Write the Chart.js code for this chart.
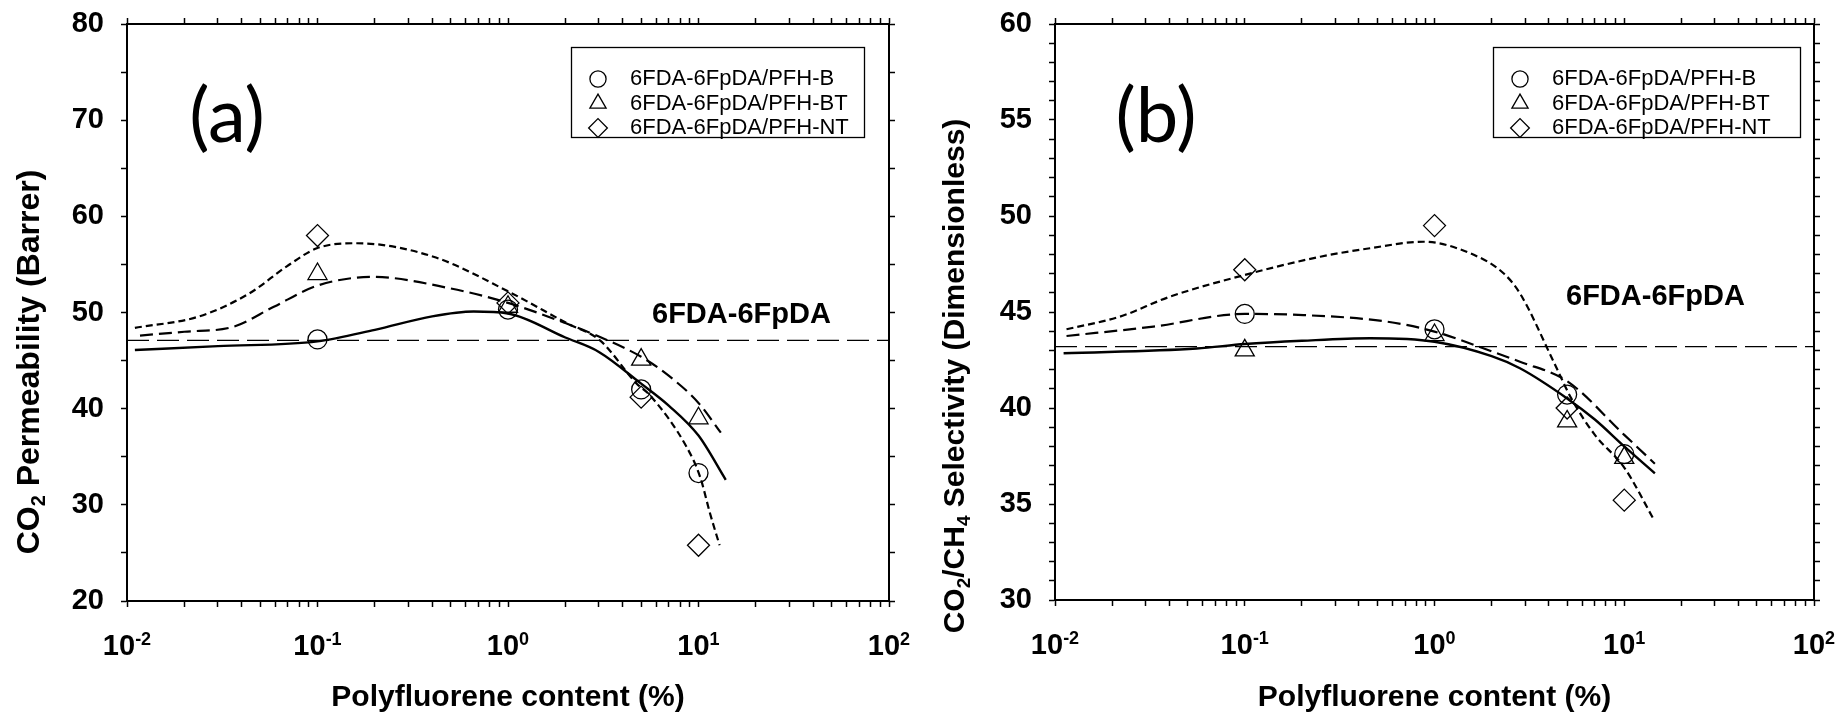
<!DOCTYPE html>
<html>
<head>
<meta charset="utf-8">
<script src="https://cdn.jsdelivr.net/npm/chart.js@4.4.1/dist/chart.umd.min.js"></script>
<style>
  html, body { margin: 0; padding: 0; background: #fff; }
  #wrap { position: relative; width: 1839px; height: 717px; }
  canvas { position: absolute; top: 0; }
</style>
</head>
<body>
<div id="wrap">
  <canvas id="chartA" width="920" height="717" style="left:0"></canvas>
  <canvas id="chartB" width="919" height="717" style="left:920px"></canvas>
</div>
<script>
// ---- data ----
const seriesNames = ['6FDA-6FpDA/PFH-B', '6FDA-6FpDA/PFH-BT', '6FDA-6FpDA/PFH-NT'];
const contentPct = [0.1, 1, 5, 10];

// (a) CO2 permeability (Barrer)
const permB  = [47.2, 50.3, 42.0, 33.3];
const permBT = [54.0, 50.6, 45.1, 39.0];
const permNT = [58.0, 51.0, 41.2, 25.8];
const permNeat = 47.1;

// (b) CO2/CH4 selectivity
const selB  = [44.9, 44.1, 40.7, 37.6];
const selBT = [43.0, 43.8, 39.3, 37.4];
const selNT = [47.2, 49.5, 40.0, 35.2];
const selNeat = 43.2;

// fitted trend curves
const permSolidX = [0.011, 0.03, 0.1, 0.2, 0.4, 0.66, 1, 2, 3, 5, 7, 10, 13.9];
const permSolidY = [46.1, 46.5, 47.0, 48.2, 49.6, 50.1, 49.9, 47.4, 45.9, 42.6, 40.3, 37.2, 32.6];
const permDashX = [0.0117, 0.02, 0.036, 0.059, 0.1, 0.196, 0.5, 1, 2, 3, 5, 7, 10, 13.1];
const permDashY = [47.6, 48.0, 48.5, 50.6, 52.8, 53.7, 52.5, 51.0, 48.9, 47.5, 45.4, 43.4, 40.6, 37.5];
const permDotX = [0.011, 0.024, 0.044, 0.069, 0.1, 0.161, 0.406, 1, 2.03, 3.04, 4.74, 5.56, 8.67, 10.2, 11.5, 12.9];
const permDotY = [48.4, 49.6, 52.0, 54.8, 56.7, 57.2, 55.8, 52.2, 48.9, 47.1, 42.6, 41.4, 36.0, 32.9, 29.1, 25.8];

const selSolidX = [0.0111, 0.0558, 0.1, 0.2, 0.457, 1, 2, 2.82, 5, 7, 10, 14.5];
const selSolidY = [42.85, 43.1, 43.33, 43.5, 43.63, 43.45, 42.7, 42.07, 40.5, 39.4, 38.0, 36.6];
const selDashX = [0.0115, 0.033, 0.1, 0.204, 0.56, 1, 2, 2.82, 5, 10, 14.5];
const selDashY = [43.75, 44.24, 44.9, 44.84, 44.5, 43.98, 42.95, 42.41, 41.4, 38.6, 37.1];
const selDotX = [0.0115, 0.022, 0.0404, 0.1, 0.25, 0.457, 0.873, 1.54, 2.31, 2.82, 4.25, 5.26, 7.0, 10, 14.3];
const selDotY = [44.1, 44.76, 45.8, 46.93, 47.88, 48.32, 48.66, 48.06, 47.02, 45.97, 42.4, 40.5, 38.6, 36.9, 34.2];

const xDecades = [0.01, 0.1, 1, 10, 100];
const xExps = ['-2', '-1', '0', '1', '2'];

const markerStyles = ['circle', 'triangle', 'rectRot'];
const markerRadius = [9.5, 11, 11];
const FONT = '"Liberation Sans", Arial, sans-serif';

// text with sub/superscript parts, optionally rotated
function drawRich(ctx, parts, size, x, y, rot, align) {
  const small = Math.round(size * 0.62);
  ctx.save();
  ctx.translate(x, y);
  ctx.rotate(rot);
  ctx.textAlign = 'left';
  ctx.textBaseline = 'alphabetic';
  let total = 0;
  const widths = parts.map(([t, k]) => {
    ctx.font = 'bold ' + (k ? small : size) + 'px ' + FONT;
    const w = ctx.measureText(t).width;
    total += w;
    return w;
  });
  let cx = align === 'center' ? -total / 2 : 0;
  parts.forEach(([t, k], i) => {
    ctx.font = 'bold ' + (k ? small : size) + 'px ' + FONT;
    let dy = 0;
    if (k === 'sub') dy = size * 0.2;
    if (k === 'sup') dy = -size * 0.36;
    ctx.fillText(t, cx, size * 0.36 + dy);
    cx += widths[i];
  });
  ctx.restore();
}

const decor = {
  id: 'decor',
  afterDraw(chart, args, o) {
    const ctx = chart.ctx;
    const xs = chart.scales.x;
    ctx.save();
    ctx.fillStyle = '#000';
    xDecades.forEach((v, i) => {
      drawRich(ctx, [['10', 0], [xExps[i], 'sup']], 29, xs.getPixelForValue(v), o.xLabelY, 0, 'center');
    });
    drawRich(ctx, o.yTitle, o.yTitleSize, o.yTitleX, o.yTitleY, -Math.PI / 2, 'center');

    ctx.font = '76px Lato, "Open Sans", sans-serif';
    ctx.textAlign = 'center';
    ctx.textBaseline = 'middle';
    ctx.fillText(o.tag, o.tagX, o.tagY);

    ctx.font = 'bold 29px ' + FONT;
    ctx.textAlign = 'left';
    ctx.fillText('6FDA-6FpDA', o.neatX, o.neatY);

    const [bx, by, bw, bh] = o.legendBox;
    ctx.strokeStyle = '#000';
    ctx.lineWidth = 1.3;
    ctx.strokeRect(bx + 0.5, by + 0.5, bw, bh);
    seriesNames.forEach((name, i) => {
      const yy = by + 32 + i * 24.5;
      ctx.fillStyle = 'rgba(0,0,0,0)';
      ctx.lineWidth = 1.3;
      Chart.helpers.drawPoint(ctx, {pointStyle: markerStyles[i], radius: markerRadius[i] * 0.85, borderWidth: 1.3, rotation: 0}, bx + 27, yy);
      ctx.fillStyle = '#000';
      ctx.font = '22px ' + FONT;
      ctx.textBaseline = 'middle';
      ctx.fillText(name, bx + 59, yy);
    });
    ctx.restore();
  }
};

function keepIntegerSignificands(scale) {
  scale.ticks = scale.ticks.filter(t => {
    const m = t.value / Math.pow(10, Math.floor(Math.log10(t.value) + 1e-9));
    return Math.abs(m - Math.round(m)) < 1e-6;
  });
}

function axisStyle() {
  return {
    border: { display: true, color: '#000', width: 2 },
    grid: { display: true, drawOnChartArea: false, drawTicks: true, tickLength: 6, tickColor: '#000', tickWidth: 1.5 }
  };
}

function buildChart(cfg) {
  const markerSets = cfg.markers.map((vals, i) => ({
    label: seriesNames[i],
    data: contentPct.map((x, j) => ({x: x, y: vals[j]})),
    showLine: false,
    pointStyle: markerStyles[i],
    pointRadius: markerRadius[i],
    pointBorderWidth: 1.3,
    pointBorderColor: '#000',
    pointBackgroundColor: 'rgba(0,0,0,0)'
  }));
  const fitSets = cfg.fits.map(([xs, ys, dash, w]) => ({
    label: 'fit',
    data: xs.map((x, j) => ({x: x, y: ys[j]})),
    showLine: true,
    pointRadius: 0,
    borderColor: '#000',
    borderWidth: w,
    borderDash: dash,
    cubicInterpolationMode: 'monotone'
  }));
  const neatSet = {
    label: 'neat',
    data: [{x: 0.01, y: cfg.neat}, {x: 100, y: cfg.neat}],
    showLine: true,
    pointRadius: 0,
    borderColor: '#000',
    borderWidth: 1.2,
    borderDash: [22, 8]
  };
  const p = cfg.pad;
  const noPad = s => { s.paddingTop = 0; s.paddingBottom = 0; s.paddingLeft = 0; s.paddingRight = 0; };
  return new Chart(document.getElementById(cfg.canvas), {
    type: 'scatter',
    data: { datasets: [...markerSets, ...fitSets, neatSet] },
    plugins: [decor],
    options: {
      responsive: false,
      animation: false,
      events: [],
      layout: { padding: 0, autoPadding: false },
      plugins: { legend: { display: false }, tooltip: { enabled: false }, decor: cfg.decor },
      scales: {
        x: {
          type: 'logarithmic', position: 'bottom', min: 0.01, max: 100,
          ...axisStyle(),
          ticks: { autoSkip: false, maxRotation: 0, callback: () => '' },
          title: { display: true, text: 'Polyfluorene content (%)', color: '#000',
                   font: { family: FONT, size: 30, weight: 'bold' }, padding: { top: 0, bottom: 1 } },
          afterBuildTicks: keepIntegerSignificands,
          afterFit: s => { s.height = p.bottom; noPad(s); }
        },
        xTop: {
          type: 'logarithmic', position: 'top', min: 0.01, max: 100,
          ...axisStyle(),
          ticks: { autoSkip: false, maxRotation: 0, callback: () => '' },
          afterBuildTicks: keepIntegerSignificands,
          afterFit: s => { s.height = p.top; noPad(s); }
        },
        y: {
          type: 'linear', position: 'left', min: cfg.yMin, max: cfg.yMax,
          ...axisStyle(),
          ticks: { stepSize: cfg.yStep, autoSkip: false, padding: 17, color: '#000',
                   font: { family: FONT, size: 29, weight: 'bold' },
                   callback: v => (v % cfg.yLabelEvery === 0 ? String(v) : '') },
          afterFit: s => { s.width = p.left; noPad(s); }
        },
        yRight: {
          type: 'linear', position: 'right', min: cfg.yMin, max: cfg.yMax,
          ...axisStyle(),
          ticks: { stepSize: cfg.yStep, autoSkip: false, callback: () => '' },
          afterFit: s => { s.width = p.right; noPad(s); }
        }
      }
    }
  });
}

buildChart({
  canvas: 'chartA',
  yMin: 20, yMax: 80, yStep: 5, yLabelEvery: 10,
  markers: [permB, permBT, permNT],
  neat: permNeat,
  fits: [[permSolidX, permSolidY, [], 2.4], [permDashX, permDashY, [13, 6], 2.2], [permDotX, permDotY, [7, 4], 2.2]],
  pad: { left: 127, right: 31, top: 24, bottom: 116 },
  decor: {
    xLabelY: 645,
    yTitle: [['CO', 0], ['2', 'sub'], [' Permeability (Barrer)', 0]],
    yTitleSize: 32, yTitleX: 27, yTitleY: 362,
    tag: '(a)', tagX: 227, tagY: 117,
    neatX: 652, neatY: 315,
    legendBox: [571, 47, 293, 90]
  }
});

buildChart({
  canvas: 'chartB',
  yMin: 30, yMax: 60, yStep: 1, yLabelEvery: 5,
  markers: [selB, selBT, selNT],
  neat: selNeat,
  fits: [[selSolidX, selSolidY, [], 2.4], [selDashX, selDashY, [13, 6], 2.2], [selDotX, selDotY, [7, 4], 2.2]],
  pad: { left: 135, right: 25, top: 24, bottom: 117 },
  decor: {
    xLabelY: 644,
    yTitle: [['CO', 0], ['2', 'sub'], ['/CH', 0], ['4', 'sub'], [' Selectivity (Dimensionless)', 0]],
    yTitleSize: 30, yTitleX: 33, yTitleY: 376,
    tag: '(b)', tagX: 236, tagY: 117,
    neatX: 646, neatY: 297,
    legendBox: [573, 47, 307, 90]
  }
});
</script>
</body>
</html>
